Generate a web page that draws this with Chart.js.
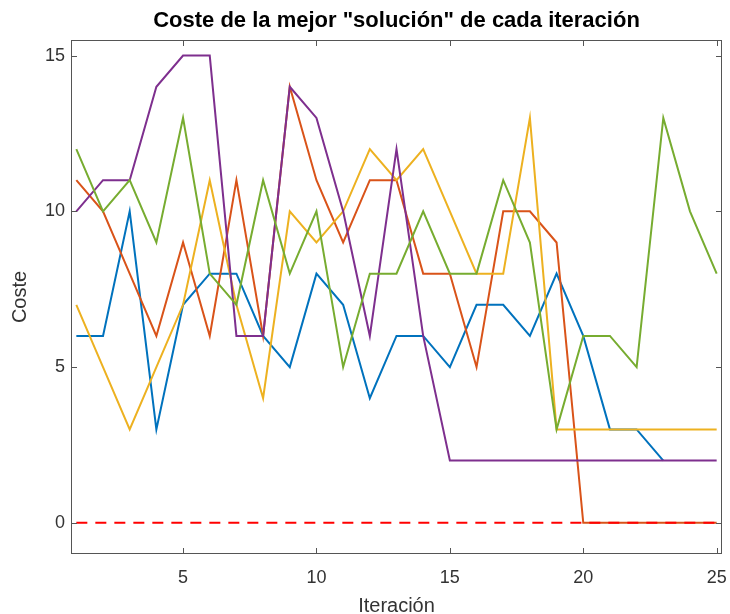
<!DOCTYPE html>
<html>
<head>
<meta charset="utf-8">
<script src="https://cdn.jsdelivr.net/npm/chart.js@4.4.1/dist/chart.umd.min.js"></script>
<style>
  html, body { margin: 0; padding: 0; background: #ffffff; }
  #wrap { width: 730px; height: 614px; }
</style>
</head>
<body>
<div id="wrap"><canvas id="grafico" width="730" height="614"></canvas></div>
<script>
// Iteraciones del algoritmo
const iteraciones = [1, 2, 3, 4, 5, 6, 7, 8, 9, 10, 11, 12, 13, 14, 15, 16, 17, 18, 19, 20, 21, 22, 23, 24, 25];

// Coste de la mejor solución de cada ejecución (una serie por ejecución)
const costeEjec1 = [6, 6, 10, 3, 7, 8, 8, 6, 5, 8, 7, 4, 6, 6, 5, 7, 7, 6, 8, 6, 3, 3, 2, null, null];
const costeEjec2 = [11, 10, 8, 6, 9, 6, 11, 6, 14, 11, 9, 11, 11, 8, 8, 5, 10, 10, 9, 0, 0, 0, 0, 0, 0];
const costeEjec3 = [7, 5, 3, 5, 7, 11, 7, 4, 10, 9, 10, 12, 11, 12, 10, 8, 8, 13, 3, 3, 3, 3, 3, 3, 3];
const costeEjec4 = [10, 11, 11, 14, 15, 15, 6, 6, 14, 13, 10, 6, 12, 6, 2, 2, 2, 2, 2, 2, 2, 2, 2, 2, 2];
const costeEjec5 = [12, 10, 11, 9, 13, 8, 7, 11, 8, 10, 5, 8, 8, 10, 8, 8, 11, 9, 3, 6, 6, 5, 13, 10, 8];

// Coste óptimo (referencia)
const costeOptimo = [0, 0, 0, 0, 0, 0, 0, 0, 0, 0, 0, 0, 0, 0, 0, 0, 0, 0, 0, 0, 0, 0, 0, 0, 0];

// Marcas de los ejes
const marcasX = [5, 10, 15, 20, 25];
const marcasY = [0, 5, 10, 15];

const series = [costeEjec1, costeEjec2, costeEjec3, costeEjec4, costeEjec5];
const colores = ['#0072BD', '#D95319', '#EDB120', '#7E2F8E', '#77AC30'];

const puntos = arr => iteraciones.map((it, i) => ({ x: it, y: arr[i] }));

const datasets = series.map((s, i) => ({
  data: puntos(s),
  borderColor: colores[i],
  borderWidth: 2,
  pointRadius: 0,
  tension: 0,
  spanGaps: false,
  order: 10 - i
}));
datasets.push({
  data: puntos(costeOptimo),
  borderColor: '#FF0000',
  borderWidth: 2,
  borderDash: [11, 8],
  pointRadius: 0,
  order: 0
});

// Recuadro de los ejes con marcas hacia dentro en los cuatro lados
const marco = {
  id: 'marco',
  afterDraw(chart) {
    const { ctx, chartArea: a, scales: { x, y } } = chart;
    const L = 6;
    ctx.save();
    ctx.strokeStyle = '#555555';
    ctx.lineWidth = 1;
    ctx.strokeRect(a.left + 0.5, a.top + 0.5, a.right - a.left - 1, a.bottom - a.top - 1);
    ctx.beginPath();
    x.ticks.forEach(t => {
      const px = Math.round(x.getPixelForValue(t.value)) + 0.5;
      ctx.moveTo(px, a.bottom); ctx.lineTo(px, a.bottom - L);
      ctx.moveTo(px, a.top); ctx.lineTo(px, a.top + L);
    });
    y.ticks.forEach(t => {
      const py = Math.round(y.getPixelForValue(t.value)) + 0.5;
      ctx.moveTo(a.left, py); ctx.lineTo(a.left + L, py);
      ctx.moveTo(a.right, py); ctx.lineTo(a.right - L, py);
    });
    ctx.stroke();
    ctx.restore();
  }
};

Chart.defaults.font.family = "'Liberation Sans', Arial, Helvetica, sans-serif";

new Chart(document.getElementById('grafico'), {
  type: 'line',
  data: { datasets },
  plugins: [marco],
  options: {
    responsive: false,
    animation: false,
    devicePixelRatio: 1,
    layout: { padding: { left: 0, right: 8, top: 0, bottom: 0 } },
    plugins: {
      legend: { display: false },
      tooltip: { enabled: false },
      title: {
        display: true,
        text: 'Coste de la mejor "solución" de cada iteración',
        fullSize: false,
        color: '#000000',
        font: { size: 22, weight: 'bold' },
        padding: { top: 8, bottom: 5.6 }
      }
    },
    scales: {
      x: {
        type: 'linear',
        min: 0.8,
        max: 25.2,
        afterBuildTicks: s => { s.ticks = marcasX.map(v => ({ value: v })); },
        afterFit: s => { s.height = 60; s.paddingLeft = 0; s.paddingRight = 0; },
        grid: { display: false, drawTicks: false },
        border: { display: false },
        ticks: { autoSkip: false, color: '#333333', font: { size: 18 }, padding: 13, maxRotation: 0 },
        title: {
          display: true,
          text: 'Iteración',
          color: '#333333',
          font: { size: 20, lineHeight: 0.8 },
          padding: { top: 0, bottom: 0 }
        }
      },
      y: {
        type: 'linear',
        min: -1,
        max: 15.5,
        afterBuildTicks: s => { s.ticks = marcasY.map(v => ({ value: v })); },
        afterFit: s => { s.width = 71; s.paddingTop = 0; s.paddingBottom = 0; },
        grid: { display: false, drawTicks: false },
        border: { display: false },
        ticks: { autoSkip: false, color: '#333333', font: { size: 18 }, padding: 6 },
        title: {
          display: true,
          text: 'Coste',
          color: '#333333',
          font: { size: 20, lineHeight: 0.8 },
          padding: { top: 12, bottom: 0 }
        }
      }
    }
  }
});
</script>
</body>
</html>
